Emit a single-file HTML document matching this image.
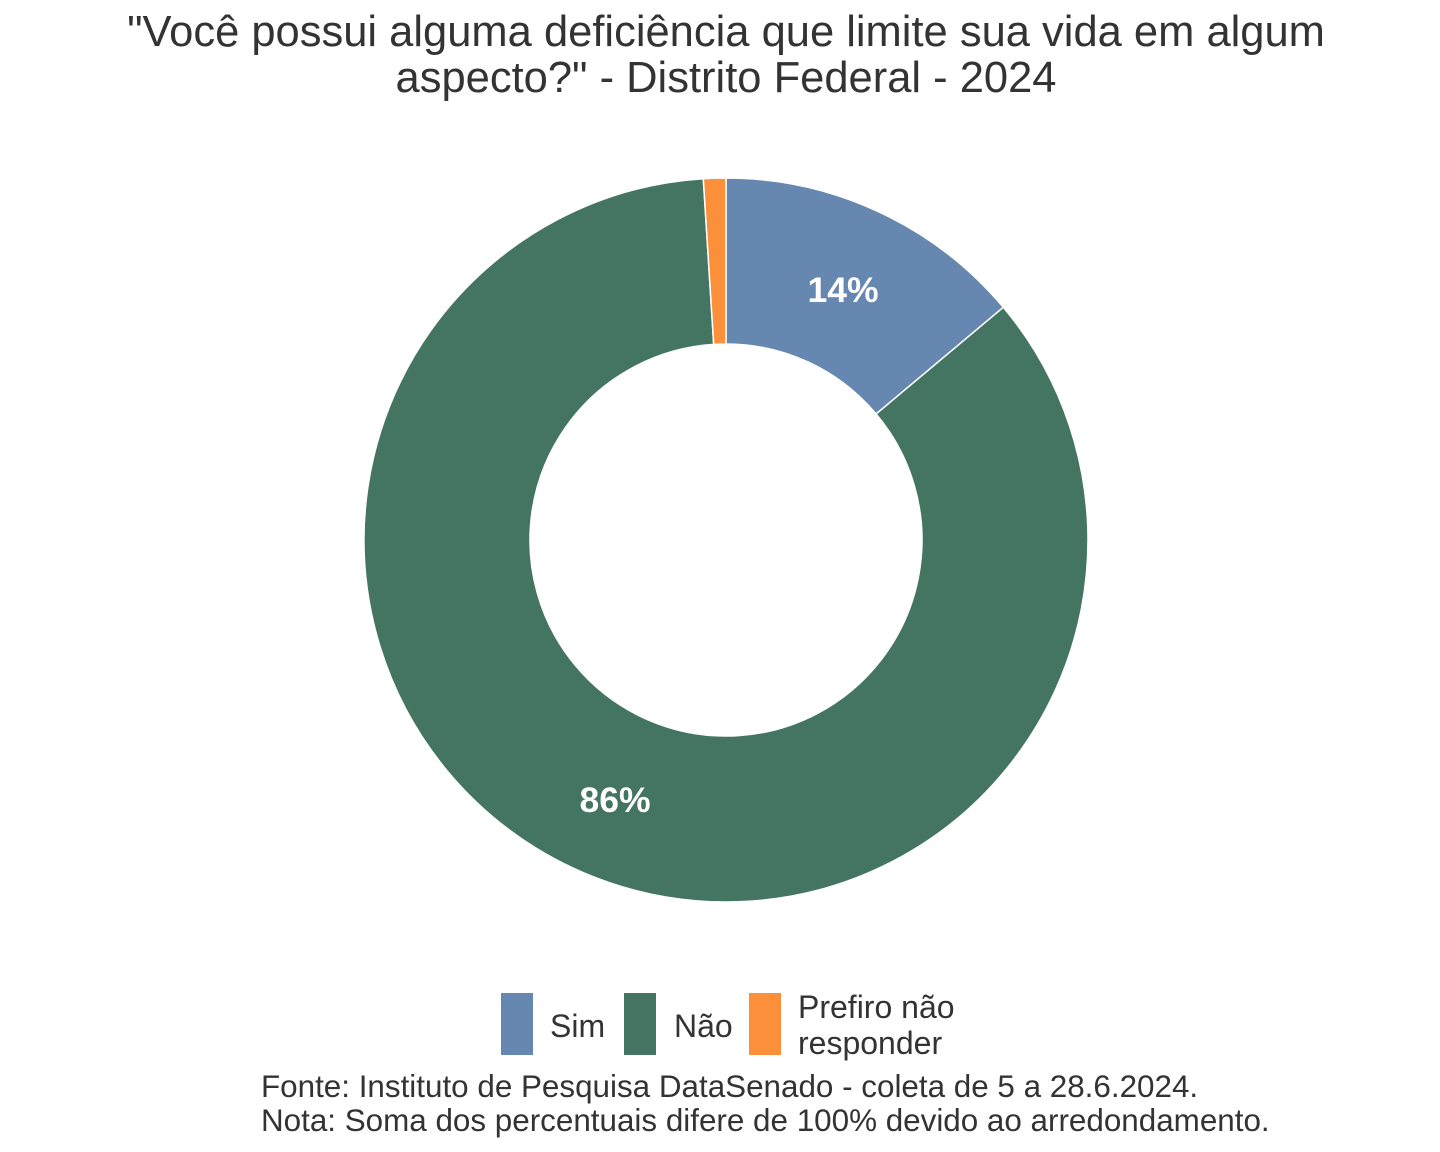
<!DOCTYPE html>
<html><head><meta charset="utf-8"><style>
body{margin:0;width:1440px;height:1152px;background:#fff;overflow:hidden}
svg{display:block}
text{font-family:"Liberation Sans",Arial,sans-serif;fill:#333}
</style></head><body>
<svg width="1440" height="1152" viewBox="0 0 1440 1152">
<text x="726" y="46" font-size="43.5" text-anchor="middle">"Você possui alguma deficiência que limite sua vida em algum</text>
<text x="726" y="92" font-size="43.5" text-anchor="middle">aspecto?" - Distrito Federal - 2024</text>
<g stroke="#fff" stroke-width="1.5">
<path d="M726,178 A362,362 0 0 1 1003.3,307.3 L876.1,414 A196,196 0 0 0 726,344 Z" fill="#6687B0"/>
<path d="M1003.3,307.3 A362,362 0 1 1 703.3,178.7 L713.7,344.4 A196,196 0 1 0 876.1,414 Z" fill="#447563"/>
<path d="M703.3,178.7 A362,362 0 0 1 726,178 L726,344 A196,196 0 0 0 713.7,344.4 Z" fill="#FB8F3A"/>
</g>
<text x="843" y="302" font-size="35.5" font-weight="bold" text-anchor="middle" style="fill:#fff">14%</text>
<text x="615" y="812" font-size="35.5" font-weight="bold" text-anchor="middle" style="fill:#fff">86%</text>
<rect x="501" y="993" width="32" height="62" fill="#6687B0"/>
<rect x="624" y="993" width="32" height="62" fill="#447563"/>
<rect x="749" y="993" width="32" height="62" fill="#FB8F3A"/>
<text x="550" y="1037" font-size="32">Sim</text>
<text x="674" y="1037" font-size="32">Não</text>
<text x="798" y="1018" font-size="32">Prefiro não</text>
<text x="798" y="1054" font-size="32">responder</text>
<text x="261" y="1097" font-size="31.4">Fonte: Instituto de Pesquisa DataSenado - coleta de 5 a 28.6.2024.</text>
<text x="261" y="1131" font-size="31.4">Nota: Soma dos percentuais difere de 100% devido ao arredondamento.</text>
</svg>
</body></html>
